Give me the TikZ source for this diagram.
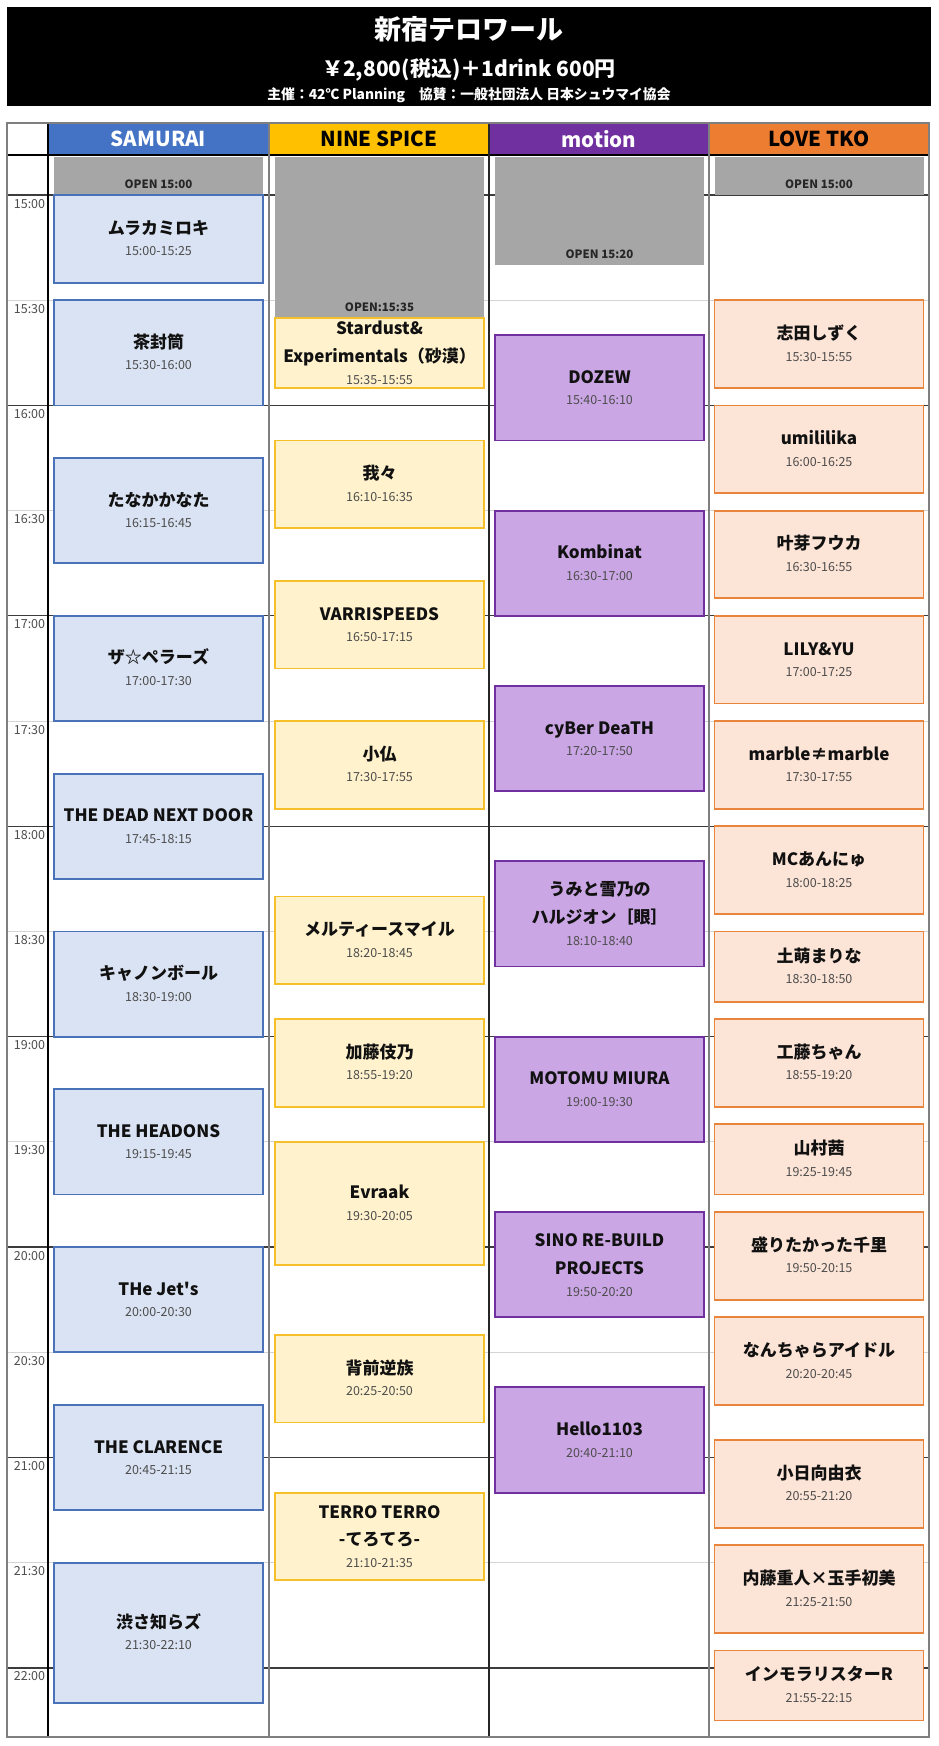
\documentclass[tikz,border=0pt]{standalone}
\usepackage{fontspec}
\setmainfont{Noto Sans CJK JP}
\definecolor{samhead}{HTML}{4472C4}
\definecolor{samfill}{HTML}{DAE3F3}
\definecolor{samline}{HTML}{4A72B8}
\definecolor{ninehead}{HTML}{FFC000}
\definecolor{ninefill}{HTML}{FFF2CC}
\definecolor{nineline}{HTML}{F5C02A}
\definecolor{mothead}{HTML}{7030A0}
\definecolor{motfill}{HTML}{CAA6E4}
\definecolor{motline}{HTML}{7030A0}
\definecolor{lovehead}{HTML}{ED7D31}
\definecolor{lovefill}{HTML}{FCE4D6}
\definecolor{loveline}{HTML}{E8843C}
\definecolor{opengray}{HTML}{A6A6A6}
\definecolor{hourline}{HTML}{3C3C3C}
\definecolor{halfline}{HTML}{D4D4D4}
\definecolor{gridgray}{HTML}{7F7F7F}
\definecolor{timec}{HTML}{4D4D4D}
\definecolor{namec}{HTML}{111111}
% one slot: id, x centre, start min, end min, style, name, time
\newcommand\slot[7]{%
  \pgfmathsetmacro\ya{195+(#3-900)*3.507}%
  \pgfmathsetmacro\yb{195+(#4-900)*3.507}%
  \pgfmathsetmacro\yc{(\ya+\yb)/2}%
  \pgfmathsetmacro\hh{\yb-\ya}%
  \node[#5, minimum height=\hh pt] (#1) at (#2,\yc) {};
  \node[nm] (#1n) at (#2,\yc-4.5) {#6};
  \node[tm] (#1t) at (#2,\yc+17) {#7};
}
% two-line name slot
\newcommand\slottwo[8]{%
  \pgfmathsetmacro\ya{195+(#3-900)*3.507}%
  \pgfmathsetmacro\yb{195+(#4-900)*3.507}%
  \pgfmathsetmacro\yc{(\ya+\yb)/2}%
  \pgfmathsetmacro\hh{\yb-\ya}%
  \node[#5, minimum height=\hh pt] (#1) at (#2,\yc) {};
  \node[nm] (#1a) at (#2,\yc-18) {#6};
  \node[nm] (#1b) at (#2,\yc+9.5) {#7};
  \node[tm] (#1t) at (#2,\yc+31.5) {#8};
}
\begin{document}
\begin{tikzpicture}[x=1pt,y=-1pt,
  bx/.style={minimum width=209pt, inner sep=0pt, line width=1.8pt},
  sam/.style={bx, fill=samfill, draw=samline},
  nine/.style={bx, fill=ninefill, draw=nineline},
  mot/.style={bx, fill=motfill, draw=motline},
  love/.style={bx, fill=lovefill, draw=loveline},
  gr/.style={minimum width=209pt, inner sep=0pt, fill=opengray},
  opentxt/.style={font=\bfseries\fontsize{11.5}{14}\selectfont, text=black!85, inner sep=0pt, anchor=base},
  nm/.style={font=\bfseries\fontsize{17}{20}\selectfont, text=namec, inner sep=0pt, anchor=base},
  tm/.style={font=\fontsize{12.5}{14}\selectfont, text=timec, inner sep=0pt, anchor=base},
  hd/.style={minimum width=221pt, minimum height=32pt, inner sep=0pt, font=\bfseries\fontsize{20.5}{24}\selectfont},
  tl/.style={font=\fontsize{12.5}{14}\selectfont, text=timec, inner sep=0pt, anchor=base}
]
\useasboundingbox (0,0) rectangle (938,1746);
\fill[white] (0,0) rectangle (938,1746);
% title block
\fill[black] (7,7) rectangle (931,106);
\node[font=\bfseries\fontsize{27}{30}\selectfont, text=white, anchor=base, inner sep=0pt] (title) at (469,39) {新宿テロワール};
\node[font=\bfseries\fontsize{21}{24}\selectfont, text=white, anchor=base, inner sep=0pt] (price) at (469,76) {￥2,800(税込)＋1drink 600円};
\node[font=\bfseries\fontsize{13.8}{16}\selectfont, text=white, anchor=base, inner sep=0pt] (spons) at (469,99) {主催：42℃ Planning　協賛：一般社団法人 日本シュウマイ協会};
% grid lines
\foreach \i in {0,...,7} {
  \draw[hourline, line width=1.3pt] (7,195+\i*210.42) -- (929,195+\i*210.42);
}
\foreach \i in {0,...,6} {
  \draw[halfline, line width=1pt] (7,300.21+\i*210.42) -- (929,300.21+\i*210.42);
}
\foreach \t [count=\i from 0] in {15:00,15:30,16:00,16:30,17:00,17:30,18:00,18:30,19:00,19:30,20:00,20:30,21:00,21:30,22:00} {
  \node[tl] (tl\i) at (29.5,195+\i*105.21+13) {\t};
}
% header row
\node[hd, fill=samhead, text=white] (hsam) at (158.5,139) {SAMURAI};
\node[hd, fill=ninehead, text=black, minimum width=220pt] (hnine) at (379,139) {NINE SPICE};
\node[hd, fill=mothead, text=white, minimum width=220pt] (hmot) at (599,139) {motion};
\node[hd, fill=lovehead, text=black, minimum width=220pt] (hlove) at (819,139) {LOVE TKO};
\draw[black, line width=1.5pt] (7,155) -- (929,155);
% vertical lines
\draw[black, line width=1.6pt] (48,123) -- (48,1737);
\draw[gridgray, line width=1.6pt] (269,123) -- (269,1737);
\draw[black!85, line width=1.6pt] (489,123) -- (489,1737);
\draw[gridgray, line width=1.6pt] (709,123) -- (709,1737);
% open blocks
\node[gr, minimum height=38pt] (g1) at (158.5,176) {};
\node[opentxt] (g1t) at (158.5,188.5) {OPEN 15:00};
\node[gr, minimum height=161pt] (g2) at (379.5,237.5) {};
\node[opentxt] (g2t) at (379.5,311.5) {OPEN:15:35};
\node[gr, minimum height=108pt] (g3) at (599.5,211) {};
\node[opentxt] (g3t) at (599.5,258.5) {OPEN 15:20};
\node[gr, minimum height=38pt] (g4) at (819,176) {};
\node[opentxt] (g4t) at (819,188.5) {OPEN 15:00};
% SAMURAI
\slot{s1}{158.5}{900}{925}{sam}{ムラカミロキ}{15:00-15:25}
\slot{s2}{158.5}{930}{960}{sam}{茶封筒}{15:30-16:00}
\slot{s3}{158.5}{975}{1005}{sam}{たなかかなた}{16:15-16:45}
\slot{s4}{158.5}{1020}{1050}{sam}{ザ☆ペラーズ}{17:00-17:30}
\slot{s5}{158.5}{1065}{1095}{sam}{THE DEAD NEXT DOOR}{17:45-18:15}
\slot{s6}{158.5}{1110}{1140}{sam}{キャノンボール}{18:30-19:00}
\slot{s7}{158.5}{1155}{1185}{sam}{THE HEADONS}{19:15-19:45}
\slot{s8}{158.5}{1200}{1230}{sam}{THe Jet\textquotesingle s}{20:00-20:30}
\slot{s9}{158.5}{1245}{1275}{sam}{THE CLARENCE}{20:45-21:15}
\slot{s10}{158.5}{1290}{1330}{sam}{渋さ知らズ}{21:30-22:10}
% NINE SPICE
\slottwo{n1}{379.5}{935}{955}{nine}{Stardust\&}{Experimentals（砂漠）}{15:35-15:55}
\slot{n2}{379.5}{970}{995}{nine}{我々}{16:10-16:35}
\slot{n3}{379.5}{1010}{1035}{nine}{VARRISPEEDS}{16:50-17:15}
\slot{n4}{379.5}{1050}{1075}{nine}{小仏}{17:30-17:55}
\slot{n5}{379.5}{1100}{1125}{nine}{メルティースマイル}{18:20-18:45}
\slot{n6}{379.5}{1135}{1160}{nine}{加藤伎乃}{18:55-19:20}
\slot{n7}{379.5}{1170}{1205}{nine}{Evraak}{19:30-20:05}
\slot{n8}{379.5}{1225}{1250}{nine}{背前逆族}{20:25-20:50}
\slottwo{n9}{379.5}{1270}{1295}{nine}{TERRO TERRO}{-てろてろ-}{21:10-21:35}
% motion
\slot{m1}{599.5}{940}{970}{mot}{DOZEW}{15:40-16:10}
\slot{m2}{599.5}{990}{1020}{mot}{Kombinat}{16:30-17:00}
\slot{m3}{599.5}{1040}{1070}{mot}{cyBer DeaTH}{17:20-17:50}
\slottwo{m4}{599.5}{1090}{1120}{mot}{うみと雪乃の}{ハルジオン［眼］}{18:10-18:40}
\slot{m5}{599.5}{1140}{1170}{mot}{MOTOMU MIURA}{19:00-19:30}
\slottwo{m6}{599.5}{1190}{1220}{mot}{SINO RE-BUILD}{PROJECTS}{19:50-20:20}
\slot{m7}{599.5}{1240}{1270}{mot}{Hello1103}{20:40-21:10}
% LOVE TKO
\slot{l1}{819}{930}{955}{love}{志田しずく}{15:30-15:55}
\slot{l2}{819}{960}{985}{love}{umililika}{16:00-16:25}
\slot{l3}{819}{990}{1015}{love}{叶芽フウカ}{16:30-16:55}
\slot{l4}{819}{1020}{1045}{love}{LILY\&YU}{17:00-17:25}
\slot{l5}{819}{1050}{1075}{love}{marble≠marble}{17:30-17:55}
\slot{l6}{819}{1080}{1105}{love}{MCあんにゅ}{18:00-18:25}
\slot{l7}{819}{1110}{1130}{love}{土萌まりな}{18:30-18:50}
\slot{l8}{819}{1135}{1160}{love}{工藤ちゃん}{18:55-19:20}
\slot{l9}{819}{1165}{1185}{love}{山村茜}{19:25-19:45}
\slot{l10}{819}{1190}{1215}{love}{盛りたかった千里}{19:50-20:15}
\slot{l11}{819}{1220}{1245}{love}{なんちゃらアイドル}{20:20-20:45}
\slot{l12}{819}{1255}{1280}{love}{小日向由衣}{20:55-21:20}
\slot{l13}{819}{1285}{1310}{love}{内藤重人×玉手初美}{21:25-21:50}
\slot{l14}{819}{1315}{1335}{love}{インモラリスターR}{21:55-22:15}
% outer border
\draw[gridgray, line width=2pt] (7,123) rectangle (929,1737);
\end{tikzpicture}
\end{document}
